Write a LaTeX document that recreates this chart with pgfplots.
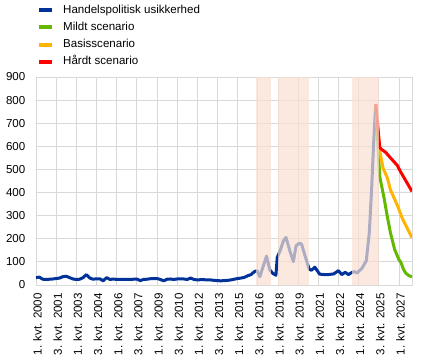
\documentclass[border=0pt]{standalone}
\usepackage{pgfplots}
\pgfplotsset{compat=1.18}
\usepackage{fontspec}
\setmainfont{Liberation Sans}
\definecolor{ecbblue}{HTML}{003299}
\definecolor{ecbgreen}{HTML}{65B800}
\definecolor{ecbyellow}{HTML}{FFB400}
\definecolor{ecbred}{HTML}{FF0000}
\definecolor{gridgray}{HTML}{D9D9D9}
\definecolor{shade}{RGB}{249,224,211}
\begin{document}
\fontsize{11.6}{13.8}\selectfont
\begin{tikzpicture}
\path[use as bounding box] (-36bp,-76bp) rectangle (396bp,285bp);
\begin{axis}[
  scale only axis,
  width=376bp, height=208bp,
  xmin=0, xmax=111.9, ymin=0, ymax=900,
  ytick={0,100,...,900},
  xtick={0,6,...,108},
  xticklabels={1. kvt. 2000,3. kvt. 2001,1. kvt. 2003,3. kvt. 2004,1. kvt. 2006,3. kvt. 2007,1. kvt. 2009,3. kvt. 2010,1. kvt. 2012,3. kvt. 2013,1. kvt. 2015,3. kvt. 2016,1. kvt. 2018,3. kvt. 2019,1. kvt. 2021,3. kvt. 2022,1. kvt. 2024,3. kvt. 2025,1. kvt. 2027},
  xticklabel style={xshift=1.5bp, rotate=90, anchor=east, inner xsep=8bp, inner ysep=0pt},
  yticklabel style={anchor=east, inner xsep=10.5bp},
  /pgf/number format/assume math mode=true,
  major tick length=0pt,
  grid=major,
  grid style={draw=gridgray, line width=0.8bp},
  axis line style={draw=gridgray, line width=0.8bp},
  tick label style={font=\fontsize{11.6}{13.8}\selectfont},
  legend style={at={(0,1)}, anchor=north west, xshift=1bp, yshift=72.5bp,
    draw=none, fill=none, inner sep=0pt, row sep=6.2bp,
    font=\fontsize{11.6}{13.8}\selectfont,
    nodes={inner sep=0pt, text height=8.5bp, text depth=2.5bp},
    /tikz/every odd column/.append style={column sep=9bp}},
  legend cell align=left,
  legend image code/.code={\draw[#1, line width=4bp] (0bp,0bp) -- (13bp,0bp);},
]
\addplot[ecbblue, line width=3bp, line join=round] coordinates {
(0,32) (1,34) (2,25) (3,24) (4,25) (5,26) (6,28) (7,30) (8,36) (9,38)
(10,32) (11,26) (12,24) (13,25) (14,32) (15,45) (16,30) (17,25) (18,27) (19,27)
(20,18) (21,32) (22,24) (23,26) (24,24) (25,24) (26,24) (27,24) (28,24) (29,25)
(30,26) (31,19) (32,24) (33,25) (34,27) (35,28) (36,28) (37,24) (38,18) (39,25)
(40,26) (41,24) (42,26) (43,27) (44,26) (45,24) (46,30) (47,24) (48,22) (49,23)
(50,23) (51,22) (52,22) (53,20) (54,19) (55,18) (56,19) (57,20) (58,22) (59,25)
(60,28) (61,30) (62,33) (63,40) (64,45) (65,58) (65.8,62)
(66.6,36) (67.6,80) (68.6,125) (69.6,65) (70.5,50) (71.4,42) (71.8,120)
(72.7,150) (73.6,190) (74.4,206) (75.5,150) (76.6,101) (77.4,170) (78.3,180) (79,178)
(80.1,125) (81.3,68) (82,64) (83,77) (84.4,47) (85.8,45) (87,45) (88.6,48)
(90,62) (91,45) (92,55) (93,45) (93.7,52) (94.7,58) (95.5,52) (97,72) (98.3,105)
(99.2,228) (99.9,420) (100.5,620) (101.1,783)
};
\addlegendentry{Handelspolitisk usikkerhed}
\addplot[ecbgreen, line width=3bp, line join=round] coordinates {
(101.1,783) (102.3,470) (103.6,375) (104.6,292) (105.5,225) (106.7,155) (108,110)
(108.6,98) (109.3,70) (110,52) (111,40) (111.9,36)
};
\addlegendentry{Mildt scenario}
\addplot[ecbyellow, line width=3bp, line join=round] coordinates {
(101.1,783) (102.3,580) (103.3,505) (104.6,462) (105.5,410) (106,395) (107.5,346)
(109,289) (110.5,245) (111.9,205)
};
\addlegendentry{Basisscenario}
\addplot[ecbred, line width=3bp, line join=round] coordinates {
(101.1,783) (102.3,595) (103,585) (104,575) (105.5,550) (107.5,518) (108.5,490)
(109.5,465) (110.5,440) (111.9,405)
};
\addlegendentry{Hårdt scenario}
\addplot[draw=none, fill=shade, fill opacity=0.7, forget plot] coordinates {(65.6,0) (70,0) (70,900) (65.6,900)} -- cycle;
\addplot[draw=none, fill=shade, fill opacity=0.7, forget plot] coordinates {(71.9,0) (81.3,0) (81.3,900) (71.9,900)} -- cycle;
\addplot[draw=none, fill=shade, fill opacity=0.7, forget plot] coordinates {(94,0) (102.1,0) (102.1,900) (94,900)} -- cycle;
\end{axis}
\end{tikzpicture}
\end{document}
